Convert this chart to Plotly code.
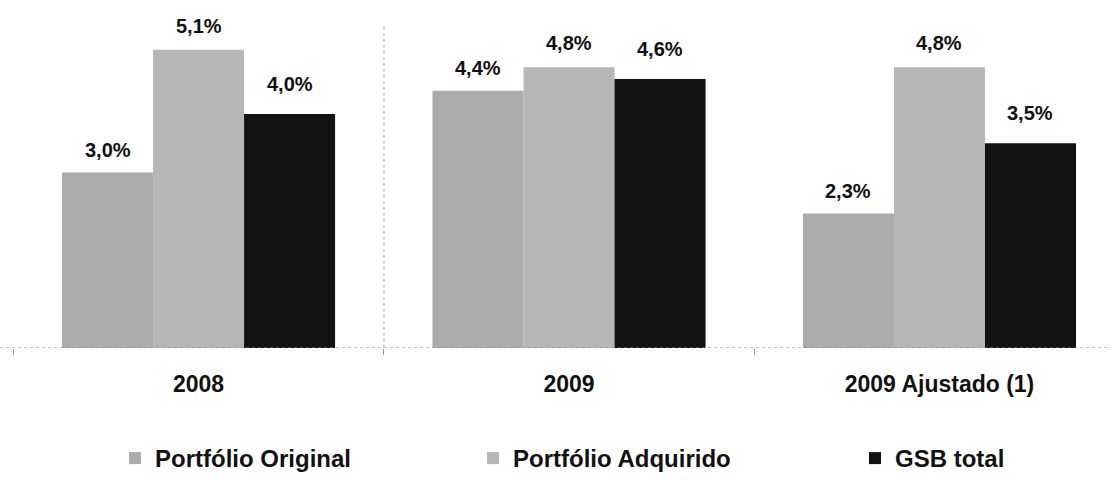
import plotly.graph_objects as go

categories = ["2008", "2009", "2009 Ajustado (1)"]
series_names = ["Portfólio Original", "Portfólio Adquirido", "GSB total"]
original = [3.0, 4.4, 2.3]
adquirido = [5.1, 4.8, 4.8]
gsb_total = [4.0, 4.6, 3.5]
label_texts = [
    ["3,0%", "4,4%", "2,3%"],
    ["5,1%", "4,8%", "4,8%"],
    ["4,0%", "4,6%", "3,5%"],
]

series_values = [original, adquirido, gsb_total]
colors = ["#ababab", "#b6b6b6", "#121212"]
FONT = "Liberation Sans, Arial, sans-serif"
legend_ids = ["legend", "legend2", "legend3"]
legend_x = [115, 473, 855]  # px, left edge of each legend box

fig = go.Figure()
for name, vals, col, lid in zip(series_names, series_values, colors, legend_ids):
    fig.add_trace(go.Bar(
        x=categories, y=vals, name=name, legend=lid,
        marker=dict(color=col, line=dict(width=0)),
    ))

# value labels above the bars (positioned through the axes)
bar_px = 91
shifts = [-bar_px, 0, bar_px]
yshifts = [23, 24, 30]
for si, (vals, texts) in enumerate(zip(series_values, label_texts)):
    for ci, (v, t) in enumerate(zip(vals, texts)):
        fig.add_annotation(
            x=ci, y=v, text=f"<b>{t}</b>", showarrow=False,
            xshift=shifts[si], yshift=yshifts[si], yanchor="middle",
            font=dict(family=FONT, size=20, color="#111111"),
        )

# dotted baseline
fig.add_shape(type="line", xref="paper", yref="y", x0=0, x1=1, y0=0, y1=0,
              line=dict(color="#8a8a8a", width=1.2, dash="dot"))
# faint dotted separator between first and second groups
fig.add_shape(type="line", xref="paper", yref="y", x0=0.3456, x1=0.3456, y0=-0.2, y1=5.53,
              line=dict(color="#c4c4c4", width=1.5, dash="dot"))

W, H = 1111, 481
top, base = 3, 349
plot_h = base - top
leg_y = (base - 460) / plot_h
legend_common = dict(
    orientation="h", xanchor="left", y=leg_y, yanchor="middle",
    font=dict(family=FONT, size=24, color="#111111", weight="bold"),
    bgcolor="rgba(0,0,0,0)",
)
legends = {lid: dict(legend_common, x=px / W) for lid, px in zip(legend_ids, legend_x)}

fig.update_layout(
    width=W, height=H,
    margin=dict(l=0, r=0, t=top, b=H - base),
    paper_bgcolor="white", plot_bgcolor="white",
    barmode="group", bargap=0.263, bargroupgap=0,
    showlegend=True,
    **legends,
    xaxis=dict(
        type="category", range=[-0.536, 2.463],
        showgrid=False, zeroline=False, showline=False,
        ticks="outside", tickson="boundaries", ticklen=6, tickwidth=1,
        tickcolor="#9a9a9a",
        tickfont=dict(family=FONT, size=23, color="#111111", weight="bold"),
        ticklabelstandoff=20,
    ),
    yaxis=dict(range=[0, 5.9], showgrid=False, zeroline=False, showline=False,
               showticklabels=False, ticks=""),
)

fig.write_html("out.html", config={"displayModeBar": False},
               post_script="document.body.style.margin='0';")
